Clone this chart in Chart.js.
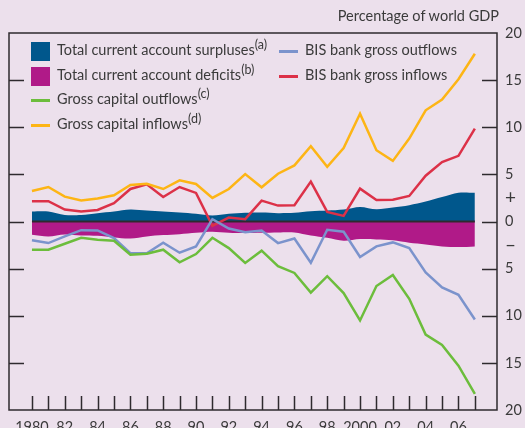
<!DOCTYPE html>
<html>
<head>
<meta charset="utf-8">
<script src="https://cdn.jsdelivr.net/npm/chart.js@4"></script>
<style>
  html, body { margin: 0; padding: 0; background: #ece0ec; }
  #wrap { position: relative; width: 525px; height: 428px; overflow: hidden; font-family: Lato, 'Open Sans', sans-serif; color: #3a3a3a; }
  canvas { position: absolute; left: 0; top: 0; }
  .title { position: absolute; right: 26px; top: 7px; font-size: 14.5px; }
  .leg { position: absolute; font-size: 14.5px; line-height: 18px; white-space: nowrap; }
  .leg sup { font-size: 12.5px; vertical-align: 6px; line-height: 0; }
  .sw { position: absolute; }
</style>
</head>
<body>
<div id="wrap">
  <canvas id="chart" width="525" height="428"></canvas>
  <div class="title">Percentage of world GDP</div>
  <div id="legend"></div>
</div>
<script>
// ---------------------------------------------------------------------------
// Data (percentage of world GDP)
// ---------------------------------------------------------------------------
const YEARS = [1980, 1981, 1982, 1983, 1984, 1985, 1986, 1987, 1988, 1989,
    1990, 1991, 1992, 1993, 1994, 1995, 1996, 1997, 1998, 1999,
    2000, 2001, 2002, 2003, 2004, 2005, 2006, 2007];

const surpluses = [1.06, 1.06, 0.7, 0.7, 0.88, 1.06, 1.27, 1.16, 1.06, 0.95,
    0.81, 0.63, 0.81, 0.92, 0.95, 0.88, 0.92, 1.09, 1.16, 1.27,
    1.55, 1.3, 1.48, 1.73, 2.11, 2.6, 3.06, 3.06];
const deficits = [-1.41, -1.58, -1.37, -1.48, -1.51, -1.69, -1.8, -1.58, -1.44, -1.34,
    -1.2, -1.09, -1.2, -1.23, -1.2, -1.16, -1.16, -1.48, -1.73, -2.04,
    -1.87, -1.9, -2.0, -2.25, -2.43, -2.64, -2.71, -2.64];
const grossOutflows = [-2.99, -2.99, -2.36, -1.73, -1.94, -2.04, -3.52, -3.42, -2.99, -4.33,
    -3.45, -1.73, -2.82, -4.4, -3.1, -4.75, -5.46, -7.55, -5.8, -7.6,
    -10.5, -6.85, -5.68, -8.2, -12.0, -13.1, -15.3, -18.3];
const grossInflows = [3.24, 3.66, 2.64, 2.22, 2.43, 2.78, 3.87, 4.01, 3.45, 4.37,
    3.98, 2.5, 3.45, 5.03, 3.63, 5.07, 5.95, 8.0, 5.8, 7.8,
    11.44, 7.56, 6.43, 8.8, 11.8, 12.95, 15.1, 17.8];
const bisOutflows = [-2.0, -2.29, -1.58, -0.92, -0.95, -1.76, -3.35, -3.38, -2.25, -3.31,
    -2.64, 0.25, -0.74, -1.13, -0.95, -2.29, -1.8, -4.37, -0.88, -1.09,
    -3.77, -2.64, -2.22, -2.82, -5.4, -7.0, -7.77, -10.4];
const bisInflows = [2.15, 2.15, 1.27, 1.06, 1.23, 1.94, 3.45, 3.94, 2.6, 3.66,
    3.03, -0.46, 0.42, 0.25, 2.22, 1.69, 1.73, 4.23, 1.02, 0.6,
    3.49, 2.29, 2.32, 2.71, 4.86, 6.3, 6.97, 9.85];

// Tick values
const X_LABEL_YEARS = [1980, 1982, 1984, 1986, 1988, 1990, 1992, 1994, 1996, 1998, 2000, 2002, 2004, 2006];
const Y_TICKS = [-20, -15, -10, -5, -2.5, 0, 2.5, 5, 10, 15, 20];
const Y_MARKS = [-15, -10, -5, 0, 5, 10, 15];

// ---------------------------------------------------------------------------
// Colors
// ---------------------------------------------------------------------------
const C = {
    surplus: '#00578c',
    deficit: '#b01a88',
    grossOut: '#6cbd3c',
    grossIn: '#fdb515',
    bisOut: '#7b93cc',
    bisIn: '#dc3148',
    axis: '#2e2a2e',
    text: '#3a3a3a',
};

const pts = arr => arr.map((v, i) => ({ x: YEARS[i], y: v }));
const zeros = YEARS.map(() => 0);

function areaSet(label, data, color) {
    return {
        label, data: pts(data), backgroundColor: color, borderWidth: 0,
        fill: 'origin', pointRadius: 0, tension: 0.3, order: 10,
    };
}
function lineSet(label, data, color) {
    return {
        label, data: pts(data), borderColor: color, borderWidth: 2.5,
        fill: false, pointRadius: 0, tension: 0, order: 1,
    };
}

// ---------------------------------------------------------------------------
// Frame + inward ticks
// ---------------------------------------------------------------------------
const framePlugin = {
    id: 'frame',
    afterDatasetsDraw(chart) {
        const { ctx, chartArea: a, scales: { x, y } } = chart;
        ctx.save();
        ctx.strokeStyle = C.axis;
        ctx.lineWidth = 1.5;
        ctx.strokeRect(a.left, a.top, a.right - a.left, a.bottom - a.top);
        ctx.beginPath();
        Y_MARKS.forEach(v => {
            const py = Math.round(y.getPixelForValue(v)) + 0.5;
            ctx.moveTo(a.left, py); ctx.lineTo(a.left + 15, py);
            ctx.moveTo(a.right, py); ctx.lineTo(a.right - 15, py);
        });
        YEARS.forEach(yr => {
            const px = Math.round(x.getPixelForValue(yr)) + 0.5;
            ctx.moveTo(px, a.bottom); ctx.lineTo(px, a.bottom - 14);
        });
        ctx.stroke();
        ctx.restore();
    },
};

// +/– signs are drawn a little larger than the numbers
const signFont = c => ({
    family: 'Lato',
    size: (c && c.tick && Math.abs(c.tick.value) === 2.5) ? 19 : 14.5,
});

new Chart(document.getElementById('chart'), {
    type: 'line',
    data: {
        datasets: [
            areaSet('Total current account surpluses', surpluses, C.surplus),
            areaSet('Total current account deficits', deficits, C.deficit),
            { label: 'zero', data: pts(zeros), borderColor: C.axis, borderWidth: 2, pointRadius: 0, fill: false, order: 5 },
            lineSet('Gross capital outflows', grossOutflows, C.grossOut),
            lineSet('Gross capital inflows', grossInflows, C.grossIn),
            lineSet('BIS bank gross outflows', bisOutflows, C.bisOut),
            lineSet('BIS bank gross inflows', bisInflows, C.bisIn),
        ],
    },
    options: {
        responsive: false,
        animation: false,
        layout: { padding: { left: 9, top: 33, right: 0, bottom: 0 } },
        plugins: { legend: { display: false }, tooltip: { enabled: false } },
        scales: {
            x: {
                type: 'linear', min: 1978.6, max: 2008.35,
                grid: { display: false, drawTicks: false }, border: { display: false },
                afterBuildTicks: s => { s.ticks = X_LABEL_YEARS.map(v => ({ value: v })); },
                afterFit: s => { s.height = 18; },
                ticks: {
                    autoSkip: false, maxRotation: 0, padding: 9,
                    color: C.text, font: { family: 'Lato', size: 14.5 },
                    callback: v => (v === 1980 || v === 2000) ? String(v) : String(v).slice(2),
                },
            },
            y: {
                position: 'right', min: -20, max: 20,
                grid: { display: false, drawTicks: false }, border: { display: false },
                afterBuildTicks: s => { s.ticks = Y_TICKS.map(v => ({ value: v })); },
                afterFit: s => { s.width = 28; },
                ticks: {
                    autoSkip: false, padding: 8,
                    color: C.text,
                    font: signFont,
                    callback: v => v === 2.5 ? '+' : v === -2.5 ? '\u2013' : String(Math.abs(v)),
                },
            },
        },
    },
    plugins: [framePlugin],
});

// ---------------------------------------------------------------------------
// Legend (HTML overlay)
// ---------------------------------------------------------------------------
const LEGEND = [
    { text: 'Total current account surpluses', sup: '(a)', color: C.surplus, box: true, x: 31, y: 51 },
    { text: 'Total current account deficits', sup: '(b)', color: C.deficit, box: true, x: 31, y: 76 },
    { text: 'Gross capital outflows', sup: '(c)', color: C.grossOut, box: false, x: 31, y: 100 },
    { text: 'Gross capital inflows', sup: '(d)', color: C.grossIn, box: false, x: 31, y: 125 },
    { text: 'BIS bank gross outflows', sup: '', color: C.bisOut, box: false, x: 279, y: 51 },
    { text: 'BIS bank gross inflows', sup: '', color: C.bisIn, box: false, x: 279, y: 76 },
];
document.getElementById('legend').innerHTML = LEGEND.map(l => {
    const sw = l.box
        ? `<div class="sw" style="left:${l.x}px;top:${l.y - 9}px;width:19px;height:19px;background:${l.color}"></div>`
        : `<div class="sw" style="left:${l.x}px;top:${l.y - 1}px;width:19px;height:3px;background:${l.color}"></div>`;
    const txt = `<div class="leg" style="left:${l.x + 26}px;top:${l.y - 10}px">${l.text}${l.sup ? `<sup>${l.sup}</sup>` : ''}</div>`;
    return sw + txt;
}).join('');
</script>
</body>
</html>
